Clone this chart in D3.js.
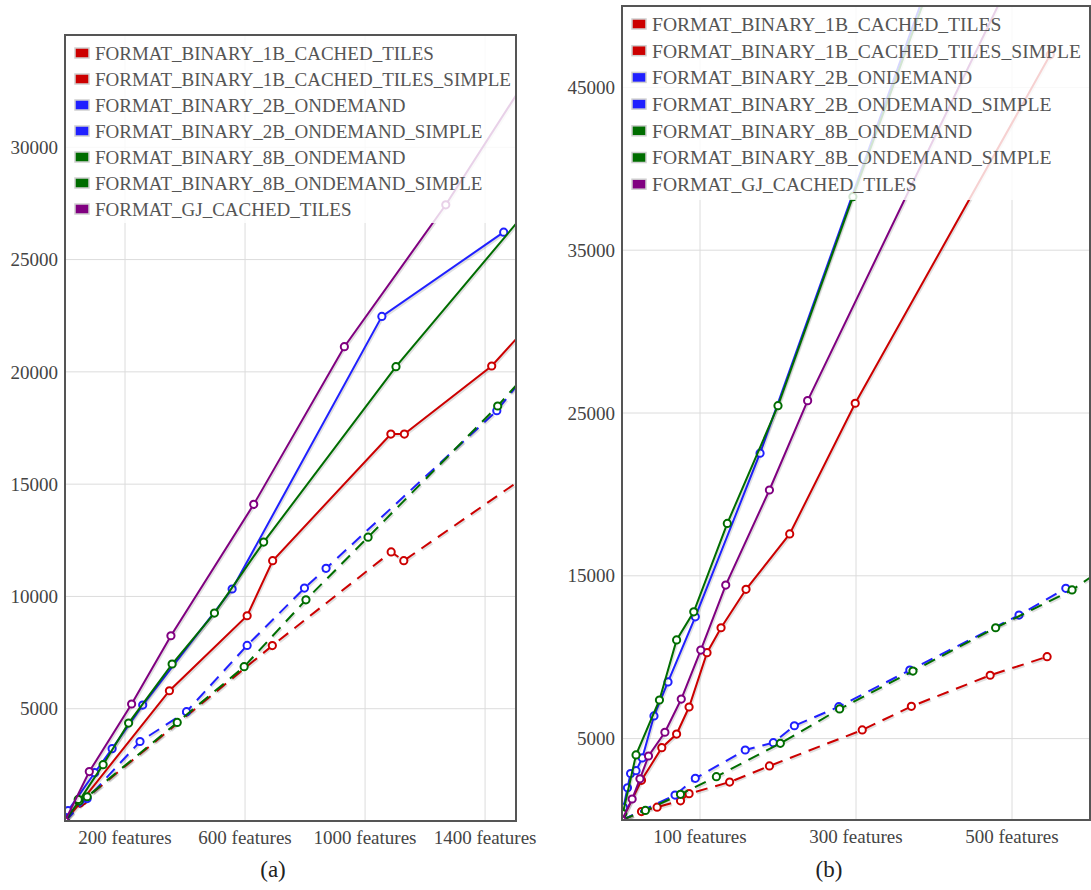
<!DOCTYPE html>
<html>
<head>
<meta charset="utf-8">
<script src="https://cdn.jsdelivr.net/npm/d3@7"></script>
<style>
  body { margin: 0; background: #fff; }
  svg { display: block; }
  text { font-family: "Liberation Serif", "Times New Roman", serif; }
</style>
</head>
<body>
<svg id="chart"></svg>
<script>
const width = 1091;
const height = 890;

const seriesNames = [
    'FORMAT_BINARY_1B_CACHED_TILES',
    'FORMAT_BINARY_1B_CACHED_TILES_SIMPLE',
    'FORMAT_BINARY_2B_ONDEMAND',
    'FORMAT_BINARY_2B_ONDEMAND_SIMPLE',
    'FORMAT_BINARY_8B_ONDEMAND',
    'FORMAT_BINARY_8B_ONDEMAND_SIMPLE',
    'FORMAT_GJ_CACHED_TILES'
];
const seriesColors = ['#cc0000', '#cc0000', '#2020ff', '#2020ff', '#006d00', '#006d00', '#800080'];
const seriesDashed = [false, true, false, true, false, true, false];

// panel (a): [features, value]
const a1B = [[0, 0], [50, 800], [348, 5800], [607, 9140], [692, 11590], [1086, 17230], [1131, 17230], [1422, 20260], [1560, 22300]];
const a1BSimple = [[0, 0], [60, 900], [691, 7810], [1087, 11980], [1129, 11590], [1560, 15580]];
const a2B = [[0, 0], [10, 460], [99, 2150], [157, 3220], [259, 5160], [557, 10330], [1056, 22470], [1462, 26220]];
const a2BSimple = [[0, 0], [74, 1000], [250, 3540], [405, 4870], [607, 7820], [798, 10370], [870, 11250], [1439, 18270], [1560, 20300]];
const a8B = [[0, 0], [47, 890], [127, 2510], [212, 4360], [357, 6990], [498, 9260], [662, 12420], [1103, 20230], [1560, 27500]];
const a8BSimple = [[0, 0], [44, 960], [74, 1080], [374, 4390], [597, 6870], [803, 9850], [1010, 12640], [1442, 18480], [1560, 20250]];
const aGJ = [[0, 0], [81, 2200], [222, 5210], [353, 8250], [629, 14100], [931, 21120], [1269, 27440], [1560, 33500]];

// panel (b): [features, value]
const b1B = [[0, 0], [25, 2440], [51, 4440], [70, 5280], [86, 6940], [109, 10280], [127, 11810], [159, 14170], [215, 17570], [299, 25600], [549, 47000]];
const b1BSimple = [[0, 0], [25, 520], [45, 790], [75, 1180], [86, 1620], [138, 2330], [189, 3320], [308, 5530], [371, 6980], [472, 8890], [545, 10030]];
const b2B = [[0, 0], [2, 770], [7, 1980], [11, 2850], [18, 3030], [26, 3810], [41, 6390], [59, 8480], [94, 12480], [177, 22530], [400, 52400]];
const b2BSimple = [[0, 0], [68, 1530], [94, 2560], [158, 4300], [194, 4750], [221, 5790], [278, 6960], [369, 9210], [509, 12590], [569, 14230]];
const b8B = [[0, 0], [1, 400], [18, 4000], [48, 7370], [70, 11060], [92, 12790], [135, 18220], [200, 25450], [296, 38290], [400, 52000]];
const b8BSimple = [[0, 0], [30, 590], [75, 1580], [121, 2660], [203, 4710], [279, 6820], [373, 9150], [479, 11810], [577, 14130], [620, 15550]];
const bGJ = [[0, 0], [13, 1290], [23, 2530], [34, 3930], [55, 5390], [76, 7430], [101, 10440], [133, 14430], [189, 20270], [238, 25760], [500, 51800]];

const aXTicks = [200, 600, 1000, 1400];
const aYTicks = [5000, 10000, 15000, 20000, 25000, 30000];
const bXTicks = [100, 300, 500];
const bYTicks = [5000, 15000, 25000, 35000, 45000];

const svg = d3.select('#chart')
    .attr('width', width)
    .attr('height', height)
    .attr('viewBox', `0 0 ${width} ${height}`);

const serif = '"Liberation Serif", "Times New Roman", serif';

function drawPanel(cfg) {
    const x = d3.scaleLinear().domain(cfg.xDomain).range([cfg.left, cfg.right]);
    const y = d3.scaleLinear().domain(cfg.yDomain).range([cfg.bottom, cfg.top]);
    const g = svg.append('g');

    g.append('clipPath').attr('id', cfg.id + '-clip')
        .append('rect')
        .attr('x', cfg.left).attr('y', cfg.top)
        .attr('width', cfg.right - cfg.left).attr('height', cfg.bottom - cfg.top);

    // grid
    g.append('g').selectAll('line').data(cfg.yTicks).join('line')
        .attr('x1', cfg.left).attr('x2', cfg.right)
        .attr('y1', d => y(d)).attr('y2', d => y(d))
        .attr('stroke', '#dcdcdc');
    g.append('g').selectAll('line').data(cfg.xTicks).join('line')
        .attr('y1', cfg.top).attr('y2', cfg.bottom)
        .attr('x1', d => x(d)).attr('x2', d => x(d))
        .attr('stroke', '#dcdcdc');

    // tick labels
    g.append('g').selectAll('text').data(cfg.yTicks).join('text')
        .attr('x', cfg.left - 7).attr('y', d => y(d)).attr('dy', '0.35em')
        .attr('text-anchor', 'end')
        .attr('font-family', serif).attr('font-size', 19).attr('fill', '#444')
        .text(d => d);
    g.append('g').selectAll('text').data(cfg.xTicks).join('text')
        .attr('x', d => x(d)).attr('y', cfg.bottom + 23)
        .attr('text-anchor', 'middle')
        .attr('font-family', serif).attr('font-size', 19).attr('fill', '#444')
        .text(d => d + ' features');

    const line = d3.line().x(d => x(d[0])).y(d => y(d[1]));
    const plot = g.append('g').attr('clip-path', `url(#${cfg.id}-clip)`);

    cfg.series.forEach((s, i) => {
        plot.append('path')
            .attr('d', line(s))
            .attr('fill', 'none')
            .attr('stroke', '#000').attr('stroke-opacity', 0.12)
            .attr('stroke-width', 2.5)
            .attr('stroke-dasharray', seriesDashed[i] ? '12,8' : null)
            .attr('transform', 'translate(1,1.5)');
        plot.append('path')
            .attr('d', line(s))
            .attr('fill', 'none')
            .attr('stroke', seriesColors[i])
            .attr('stroke-width', 2)
            .attr('stroke-dasharray', seriesDashed[i] ? '12,8' : null);
        plot.append('g').selectAll('circle').data(s).join('circle')
            .attr('cx', d => x(d[0])).attr('cy', d => y(d[1]))
            .attr('r', 3.6)
            .attr('fill', '#fff')
            .attr('stroke', seriesColors[i])
            .attr('stroke-width', 2);
    });

    // legend
    const lg = g.append('g');
    lg.append('rect')
        .attr('x', cfg.left).attr('y', cfg.top)
        .attr('width', cfg.right - cfg.left).attr('height', cfg.legendH)
        .attr('fill', '#fff').attr('fill-opacity', 0.82);
    seriesNames.forEach((name, i) => {
        const cy = cfg.top + 18 + i * cfg.legendStep;
        lg.append('rect')
            .attr('x', cfg.left + 10).attr('y', cy - 5)
            .attr('width', 14).attr('height', 10)
            .attr('fill', seriesColors[i])
            .attr('stroke', '#d0d0d0').attr('stroke-width', 1.5);
        lg.append('text')
            .attr('x', cfg.left + 30).attr('y', cy).attr('dy', '0.35em')
            .attr('font-family', serif).attr('font-size', cfg.legendFont).attr('fill', '#555')
            .text(name);
    });

    // frame
    g.append('rect')
        .attr('x', cfg.left).attr('y', cfg.top)
        .attr('width', cfg.right - cfg.left).attr('height', cfg.bottom - cfg.top)
        .attr('fill', 'none').attr('stroke', '#555').attr('stroke-width', 2);

    svg.append('text')
        .attr('x', cfg.labelX).attr('y', 877)
        .attr('text-anchor', 'middle')
        .attr('font-family', serif).attr('font-size', 23).attr('fill', '#222')
        .text(cfg.label);
}

drawPanel({
    id: 'a', label: '(a)', labelX: 273,
    left: 65, right: 516, top: 35, bottom: 821,
    xDomain: [0, 1503], yDomain: [0, 35000],
    xTicks: aXTicks, yTicks: aYTicks,
    series: [a1B, a1BSimple, a2B, a2BSimple, a8B, a8BSimple, aGJ],
    legendH: 188, legendStep: 26, legendFont: 19
});

drawPanel({
    id: 'b', label: '(b)', labelX: 829,
    left: 622, right: 1090, top: 6, bottom: 820,
    xDomain: [0, 600], yDomain: [0, 50000],
    xTicks: bXTicks, yTicks: bYTicks,
    series: [b1B, b1BSimple, b2B, b2BSimple, b8B, b8BSimple, bGJ],
    legendH: 194, legendStep: 26.7, legendFont: 19.6
});
</script>
</body>
</html>
